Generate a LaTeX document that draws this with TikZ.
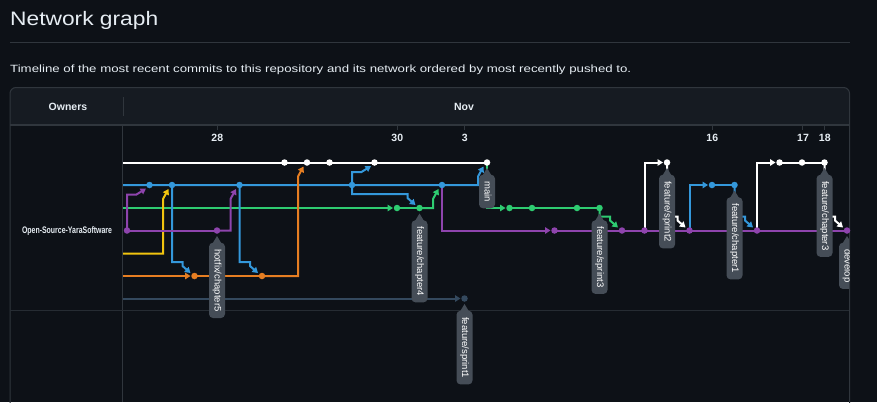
\documentclass[tikz,border=0pt]{standalone}
\usepackage{fontspec}
\usepackage{graphicx}
\setmainfont{Liberation Sans}
\usetikzlibrary{arrows.meta,calc}
\definecolor{bgc}{HTML}{0D1117}
\definecolor{hdrc}{HTML}{161B22}
\definecolor{bordc}{HTML}{30363D}
\definecolor{rowc}{HTML}{262C33}
\definecolor{txtc}{HTML}{E6EDF3}
\definecolor{lblc}{HTML}{454D57}
\definecolor{cw}{HTML}{FFFFFF}
\definecolor{cb}{HTML}{3498DB}
\definecolor{cg}{HTML}{2ECC71}
\definecolor{cp}{HTML}{8E44AD}
\definecolor{cy}{HTML}{F1C40F}
\definecolor{co}{HTML}{E67E22}
\definecolor{cs}{HTML}{34495E}
\tikzset{
  x=1pt, y=-1pt,
  ln/.style={line width=2pt, draw=#1},
  arrowend/.style={-{Triangle[length=5.5pt,width=6.5pt]}},
  commit/.style={circle, fill=#1, inner sep=0pt, minimum size=6.5pt},
  lbl/.style={rotate=-90, fill=lblc, text=white, rounded corners=4pt,
    font=\fontsize{9.5}{11}\selectfont, inner xsep=6.5pt, inner ysep=0pt,
    minimum height=16pt, text height=7pt, text depth=2pt},
  datelbl/.style={anchor=base, text=txtc, inner sep=0pt, font=\bfseries\fontsize{10.5}{12}\selectfont},
}
\newcommand\gmergeup[3]{\draw[ln=#1,arrowend] let \p1=(#2), \p2=(#3) in (\p1) -- (\x2-9pt,\y1) -- (\x2-9pt,\y2-14pt) -- (\x2-3.5pt,\y2-4pt);}
\newcommand\gbranchup[3]{\draw[ln=#1,arrowend] let \p1=(#2), \p2=(#3) in (\p1) -- (\x1,\y2-9.5pt) -- (\x2-13pt,\y2-9.5pt) -- (\x2-3.5pt,\y2-3.5pt);}
\newcommand\gstepdown[3]{\draw[ln=#1,arrowend] let \p1=(#2), \p2=(#3) in (\p1) -- (\x1,\y2+14pt) -- (\x2-12pt,\y2+14pt) -- (\x2-12pt,\y2+10pt) -- (\x2-4pt,\y2+3pt);}
\newcommand\gcorner[3]{\draw[ln=#1,arrowend] let \p1=(#2), \p2=(#3) in (\p1) -- (\x1,\y2) -- (\x2-4pt,\y2);}
\newcommand\gstraight[3]{\draw[ln=#1,arrowend] let \p1=(#2), \p2=(#3) in (\p1) -- (\x2-4pt,\y2);}
\newcommand\gblabel[3]{%
  \fill[lblc] ($(#1)+(-4.5,13)$) -- ($(#1)+(0,5.5)$) -- ($(#1)+(4.5,13)$) -- cycle;
  \node[lbl,anchor=west] (#2) at ($(#1)+(0,12)$) {#3};}
\begin{document}
\begin{tikzpicture}
\useasboundingbox (0,0) rectangle (877,402);
\fill[bgc] (0,0) rectangle (877,402);
% heading
\node[anchor=base west, inner sep=0pt, text=txtc] (title) at (10,25.5)
  {\resizebox{148pt}{\height}{\fontsize{19.5}{22}\selectfont Network graph}};
\draw[bordc, line width=1pt] (10,42.5) -- (850,42.5);
\node[anchor=base west, inner sep=0pt, text=txtc] (desc) at (10,72.5)
  {\resizebox{621pt}{\height}{\fontsize{10.5}{12}\selectfont Timeline of the most recent commits to this repository and its network ordered by most recently pushed to.}};
% table
\fill[hdrc, rounded corners=6pt] (10,87.5) rectangle (849.5,110);
\fill[hdrc] (10,95) rectangle (849.5,124.5);
\draw[bordc, line width=1pt, rounded corners=6pt] (10,420) -- (10,87.5) -- (849.5,87.5) -- (849.5,420);
\draw[bordc, line width=2pt] (10,124.5) -- (849.5,124.5);
\draw[bordc, line width=1pt] (123,97) -- (123,116);
\draw[bordc, line width=1pt] (122.5,125.5) -- (122.5,402);
\draw[rowc, line width=1.5pt] (10,310.5) -- (849,310.5);
\node[anchor=base, text=txtc, inner sep=0pt, font=\bfseries\fontsize{10.5}{12}\selectfont] (owners) at (68,110.5) {Owners};
\node[anchor=base, text=txtc, inner sep=0pt, font=\bfseries\fontsize{10.5}{12}\selectfont] (nov) at (464,110.5) {Nov};
\node[anchor=base, text=txtc, inner sep=0pt] (owner) at (67,233.5)
  {\resizebox{90pt}{\height}{\bfseries\fontsize{9.5}{11}\selectfont Open-Source-YaraSoftware}};
% date ticks
\foreach \xx in {217,397,464.5,712,802,824.5} \draw[bordc,line width=1pt] (\xx,125) -- (\xx,130);
\node[datelbl] (d28) at (217.3,141.7) {28};
\node[datelbl] (d30) at (397.3,141.7) {30};
\node[datelbl] (d3) at (464.7,141.7) {3};
\node[datelbl] (d16) at (712.3,141.7) {16};
\node[datelbl] (d17) at (803,141.7) {17};
\node[datelbl] (d18) at (824.8,141.7) {18};
% commit positions
\coordinate (wL) at (123,162.5);
\coordinate (bL) at (123,185);
\coordinate (gL) at (123,208);
\coordinate (yL) at (123,253.5);
\coordinate (oL) at (123,276);
\coordinate (sL) at (123,298.5);
\coordinate (pR) at (849.5,230.5);
\coordinate (w7) at (284.5,162.5);
\coordinate (w8) at (307,162.5);
\coordinate (w9) at (329.5,162.5);
\coordinate (w11) at (374.5,162.5);
\coordinate (w16) at (487,162.5);
\coordinate (w24) at (667,162.5);
\coordinate (w29) at (779.5,162.5);
\coordinate (w30) at (802,162.5);
\coordinate (w31) at (824.5,162.5);
\coordinate (b1) at (149.5,185);
\coordinate (b2) at (172,185);
\coordinate (b5) at (239.5,185);
\coordinate (b10) at (352,185);
\coordinate (b14) at (442,185);
\coordinate (b26) at (712,185);
\coordinate (b27) at (734.5,185);
\coordinate (g12) at (397,208);
\coordinate (g13) at (419.5,208);
\coordinate (g17) at (509.5,208);
\coordinate (g18) at (532,208);
\coordinate (g20) at (577,208);
\coordinate (g21) at (599.5,208);
\coordinate (p0) at (127,230.5);
\coordinate (p4) at (217,230.5);
\coordinate (p19) at (554.5,230.5);
\coordinate (p22) at (622,230.5);
\coordinate (p23) at (644.5,230.5);
\coordinate (p25) at (689.5,230.5);
\coordinate (p28) at (757,230.5);
\coordinate (p32) at (847,230.5);
\coordinate (o3) at (194.5,276);
\coordinate (o6) at (262,276);
\coordinate (s15) at (464.5,298.5);
% connectors
\draw[ln=cw] (wL) -- (w16);
\gmergeup{cb}{bL}{w16}
\gstraight{cg}{gL}{g12}
\draw[ln=cg] (g12) -- (g13);
\gbranchup{cp}{p0}{b1}
\gmergeup{cy}{yL}{b2}
\gstepdown{cb}{b2}{o3}
\draw[ln=cp] (p0) -- (p4);
\gmergeup{cp}{p4}{b5}
\gstepdown{cb}{b5}{o6}
\gstraight{co}{oL}{o3}
\draw[ln=co] (o3) -- (o6);
\gmergeup{co}{o6}{w8}
\gbranchup{cb}{b10}{w11}
\gstepdown{cb}{b10}{g13}
\gmergeup{cg}{g13}{b14}
\gcorner{cp}{b14}{p19}
\draw[ln=cp] (p19) -- (pR);
\gcorner{cg}{w16}{g17}
\draw[ln=cg] (g17) -- (g21);
\gstepdown{cg}{g21}{p22}
\gstraight{cs}{sL}{s15}
\gcorner{cw}{p23}{w24}
\gstepdown{cw}{w24}{p25}
\gcorner{cb}{p25}{b26}
\draw[ln=cb] (b26) -- (b27);
\gstepdown{cb}{b27}{p28}
\gcorner{cw}{p28}{w29}
\draw[ln=cw] (w29) -- (w31);
\gstepdown{cw}{w31}{p32}
% commits
\foreach \c in {w7,w8,w9,w11,w16,w24,w29,w30,w31} \node[commit=cw] (\c d) at (\c) {};
\foreach \c in {b1,b2,b5,b10,b14,b26,b27} \node[commit=cb] (\c d) at (\c) {};
\foreach \c in {g12,g13,g17,g18,g20,g21} \node[commit=cg] (\c d) at (\c) {};
\foreach \c in {p0,p4,p19,p22,p23,p25,p28,p32} \node[commit=cp] (\c d) at (\c) {};
\foreach \c in {o3,o6} \node[commit=co] (\c d) at (\c) {};
\node[commit=cs] (s15d) at (s15) {};
% branch labels
\gblabel{p4}{lhot}{hotfix/chapter5}
\gblabel{g13}{lch4}{feature/chapter4}
\gblabel{w16}{lmain}{main}
\gblabel{s15}{lsp1}{feature/sprint1}
\gblabel{g21}{lsp3}{feature/sprint3}
\gblabel{w24}{lsp2}{feature/sprint2}
\gblabel{b27}{lch1}{feature/chapter1}
\gblabel{w31}{lch3}{feature/chapter3}
\begin{scope}
  \clip (123,125) rectangle (849,402);
  \gblabel{p32}{ldev}{develop}
\end{scope}
\end{tikzpicture}
\end{document}
